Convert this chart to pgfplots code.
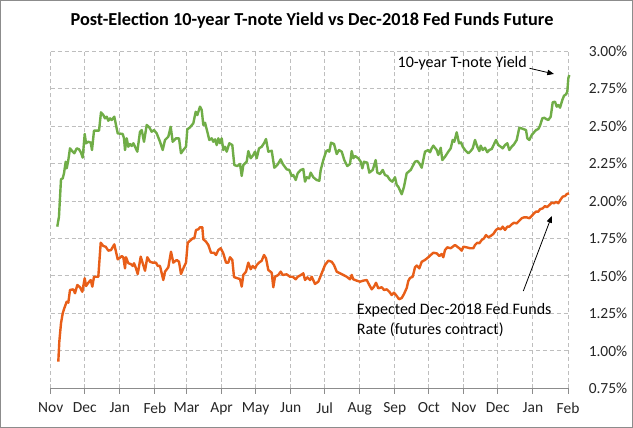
\documentclass[border=0pt]{standalone}
\usepackage{pgfplots}
\pgfplotsset{compat=1.18}
\usepackage{fontspec}
\setmainfont{Carlito}
\usetikzlibrary{arrows.meta}

\definecolor{tgreen}{RGB}{112,173,71}
\definecolor{forange}{RGB}{232,94,24}
\definecolor{gridgray}{RGB}{190,190,190}

% 10-year T-note yield, % (day 0 = 1 Nov 2016)
\pgfplotstableread{
day yield
5.8 1.829
7.3 1.895
9.1 2.145
10.6 2.151
11.75 2.185
13.25 2.262
14.13 2.218
15.55 2.273
17.05 2.351
19.43 2.329
20.85 2.318
22.97 2.351
25.0 2.345
26.77 2.322
28.27 2.289
30.04 2.447
31.18 2.385
33.22 2.395
35.34 2.389
36.48 2.340
38.25 2.469
42.67 2.469
44.43 2.591
46.47 2.573
47.97 2.551
49.47 2.562
50.88 2.535
52.39 2.551
53.89 2.540
56.18 2.562
59.19 2.451
63.6 2.447
64.75 2.418
65.64 2.340
67.14 2.418
68.55 2.362
70.05 2.380
71.55 2.367
72.97 2.385
74.47 2.362
76.5 2.329
78.89 2.462
80.39 2.473
82.42 2.395
84.81 2.507
87.1 2.491
89.22 2.462
91.25 2.473
93.64 2.451
96.55 2.395
98.94 2.340
100.97 2.407
103.89 2.429
106.0 2.495
107.77 2.395
110.69 2.418
113.34 2.418
115.1 2.318
117.14 2.340
119.52 2.362
120.67 2.478
123.06 2.491
125.97 2.518
128.09 2.595
129.51 2.573
131.89 2.629
133.39 2.607
134.81 2.507
136.31 2.522
138.34 2.462
140.11 2.407
142.23 2.418
143.64 2.395
145.14 2.411
146.64 2.373
148.06 2.418
149.56 2.385
151.06 2.418
152.47 2.340
153.98 2.362
155.48 2.329
157.77 2.385
160.42 2.373
162.19 2.240
164.84 2.233
167.23 2.247
168.73 2.167
170.14 2.240
173.14 2.262
174.56 2.333
176.68 2.285
178.98 2.307
180.48 2.329
181.98 2.285
184.01 2.351
186.4 2.362
188.43 2.385
190.19 2.413
192.23 2.329
195.23 2.335
197.53 2.222
200.18 2.240
203.18 2.278
204.95 2.247
208.48 2.211
210.78 2.207
212.9 2.167
214.31 2.173
216.43 2.140
218.2 2.185
220.85 2.207
223.14 2.213
224.65 2.129
226.15 2.158
228.18 2.151
229.68 2.189
231.98 2.158
234.98 2.140
237.28 2.135
238.52 2.207
240.81 2.273
243.2 2.329
244.7 2.340
246.11 2.329
247.61 2.389
250.27 2.380
252.65 2.313
254.68 2.340
257.07 2.329
259.36 2.273
262.01 2.233
264.4 2.247
265.9 2.333
267.31 2.285
268.82 2.300
271.73 2.285
273.85 2.262
275.27 2.218
276.77 2.262
279.68 2.255
281.45 2.189
284.45 2.207
287.1 2.273
288.52 2.189
290.9 2.180
293.29 2.207
295.32 2.173
297.35 2.167
299.73 2.140
301.77 2.129
304.15 2.158
305.65 2.107
307.07 2.095
310.07 2.045
312.1 2.095
314.49 2.185
318.02 2.207
321.82 2.262
323.85 2.267
325.62 2.251
327.74 2.222
330.65 2.329
333.57 2.340
335.07 2.325
336.57 2.351
337.99 2.369
340.99 2.340
342.4 2.307
344.52 2.355
345.94 2.273
348.32 2.295
351.24 2.329
353.36 2.351
355.12 2.407
356.54 2.395
358.66 2.458
360.69 2.385
362.46 2.391
363.96 2.362
365.99 2.340
368.9 2.318
371.02 2.333
372.79 2.351
374.82 2.407
376.86 2.362
378.62 2.333
379.86 2.369
381.63 2.340
383.66 2.355
385.69 2.325
387.46 2.340
389.58 2.347
390.99 2.369
393.37 2.407
395.41 2.373
397.53 2.362
399.29 2.351
401.33 2.373
403.36 2.385
405.12 2.340
407.24 2.362
409.28 2.378
411.66 2.407
413.96 2.489
417.49 2.480
419.88 2.473
421.02 2.418
422.79 2.407
424.91 2.440
426.94 2.458
428.71 2.473
430.74 2.480
432.24 2.502
434.28 2.551
436.04 2.555
437.54 2.547
439.58 2.540
441.7 2.562
443.46 2.658
445.49 2.662
447.0 2.629
448.41 2.640
449.91 2.622
451.94 2.673
453.45 2.702
455.21 2.711
456.36 2.729
457.24 2.818
458.13 2.840
}\tnote

% implied Dec-2018 fed funds rate, %
\pgfplotstableread{
day rate
6.71 0.929
7.6 1.062
9.1 1.185
10.6 1.251
12.01 1.285
14.13 1.329
15.55 1.322
17.05 1.407
19.96 1.411
21.47 1.385
23.5 1.440
25.88 1.425
27.92 1.395
30.04 1.485
31.18 1.433
33.22 1.455
35.34 1.473
36.75 1.429
38.25 1.495
42.05 1.495
44.17 1.722
46.47 1.700
48.59 1.695
50.88 1.669
53.27 1.673
56.18 1.711
59.19 1.611
61.22 1.622
62.72 1.633
64.13 1.625
65.64 1.551
66.52 1.625
68.55 1.585
70.67 1.580
72.44 1.567
73.59 1.585
75.35 1.551
76.86 1.513
79.51 1.629
81.27 1.585
83.3 1.535
85.34 1.625
87.72 1.595
90.11 1.589
93.02 1.589
94.52 1.567
96.55 1.567
99.47 1.473
100.97 1.529
103.89 1.558
106.27 1.662
108.3 1.589
111.31 1.607
113.34 1.595
115.1 1.513
117.14 1.551
119.52 1.589
121.02 1.722
123.06 1.735
125.44 1.751
126.86 1.751
128.36 1.807
130.39 1.811
131.89 1.825
133.92 1.825
134.81 1.745
137.19 1.729
139.22 1.707
141.61 1.655
144.26 1.655
146.02 1.640
148.06 1.673
150.18 1.685
152.47 1.651
154.86 1.589
156.89 1.589
158.39 1.625
160.42 1.607
161.93 1.493
164.84 1.485
167.23 1.480
168.73 1.429
170.14 1.507
172.53 1.529
174.56 1.589
176.68 1.545
178.45 1.567
180.48 1.551
181.98 1.573
184.01 1.589
186.4 1.602
188.43 1.640
190.19 1.618
192.23 1.540
195.23 1.522
196.64 1.425
198.14 1.495
201.06 1.507
203.18 1.529
204.95 1.507
208.48 1.511
211.4 1.495
213.78 1.495
216.43 1.478
218.2 1.495
221.11 1.507
223.14 1.518
224.65 1.473
226.68 1.491
229.06 1.473
230.57 1.495
233.48 1.447
236.4 1.462
239.4 1.518
242.31 1.573
245.23 1.602
248.23 1.595
250.27 1.573
252.65 1.529
255.57 1.518
258.48 1.507
261.48 1.495
264.4 1.478
265.9 1.507
267.31 1.478
270.32 1.469
273.23 1.462
276.15 1.469
279.15 1.473
281.45 1.440
283.57 1.411
285.6 1.429
287.37 1.455
289.4 1.418
292.4 1.425
294.43 1.407
296.82 1.411
299.12 1.395
301.24 1.373
303.27 1.389
305.65 1.367
307.69 1.345
310.07 1.353
312.1 1.380
314.49 1.420
315.9 1.467
317.4 1.487
319.79 1.495
321.82 1.558
323.32 1.570
325.62 1.551
327.74 1.595
330.65 1.607
333.57 1.625
335.69 1.640
337.99 1.655
340.99 1.651
343.29 1.633
345.41 1.647
346.82 1.625
348.32 1.673
350.35 1.691
353.36 1.685
355.12 1.695
357.16 1.707
359.19 1.695
360.95 1.685
363.07 1.669
364.49 1.695
367.49 1.691
370.41 1.685
373.32 1.685
374.82 1.707
376.86 1.722
378.62 1.718
380.74 1.740
382.77 1.751
384.54 1.773
386.57 1.758
388.69 1.767
390.99 1.780
393.37 1.807
395.41 1.818
397.53 1.811
399.29 1.829
401.33 1.807
403.36 1.829
405.12 1.829
407.24 1.845
409.28 1.855
411.66 1.851
413.96 1.869
416.08 1.885
418.11 1.891
420.49 1.891
422.79 1.885
424.91 1.900
426.94 1.918
428.71 1.929
430.74 1.929
432.24 1.945
434.63 1.951
436.66 1.967
438.16 1.958
440.46 1.973
442.58 1.989
444.61 1.985
446.38 1.995
448.41 1.985
450.53 2.011
452.3 2.029
454.33 2.033
456.0 2.047
457.86 2.051
}\fedfunds

\begin{document}
\begin{tikzpicture}[x=0.75pt,y=0.75pt]
% chart area (633 x 428 px, 1 px = 0.75 pt)
\draw[black!45, line width=0.75pt, fill=white] (0.5,0.5) rectangle (632.5,427.5);
\node[font=\fontsize{13.7}{16}\selectfont\bfseries] at (312,407) {Post-Election 10-year T-note Yield vs Dec-2018 Fed Funds Future};
\begin{axis}[
  at={(38.03pt,29.63pt)}, anchor=south west,
  scale only axis, width=388.0pt, height=253.1pt,
  xmin=0, xmax=457, ymin=0.75, ymax=3,
  clip=false,
  axis line style={draw=none},
  xtick={0,30,61,92,120,151,181,212,242,273,304,334,365,395,426,457},
  xticklabels={Nov,Dec,Jan,Feb,Mar,Apr,May,Jun,Jul,Aug,Sep,Oct,Nov,Dec,Jan,Feb},
  ytick={0.75,1.00,1.25,1.50,1.75,2.00,2.25,2.50,2.75,3.00},
  yticklabel pos=right,
  yticklabel={\pgfmathprintnumber[fixed,fixed zerofill,precision=2]{\tick}\%},
  /pgf/number format/assume math mode=true,
  tick label style={font=\fontsize{11.6}{14}\selectfont, text=black!85},
  yticklabel style={anchor=west, xshift=8pt},
  xticklabel style={yshift=-3pt},
  xtick pos=bottom, tick align=outside,
  xtick style={draw=black!45, line width=0.75pt},
  major tick length=4pt,
  ytick style={draw=none},
  grid=major,
  grid style={gridgray, line width=0.75pt, dash pattern=on 3pt off 2.2pt},
]
\draw[black!45, line width=0.75pt] (rel axis cs:0,0) -- (rel axis cs:1,0);
\addplot[tgreen, line width=1.8pt, line join=round] table[x=day, y=yield] {\tnote};
\addplot[forange, line width=1.8pt, line join=round] table[x=day, y=rate] {\fedfunds};
\node[anchor=east, font=\fontsize{12}{14}\selectfont, inner sep=0pt] at (axis cs:420.8,2.92) {10-year T-note Yield};
\draw[-{Triangle[length=5pt,width=4pt]}, line width=0.6pt] (axis cs:423,2.885) -- (axis cs:444.6,2.847);
\node[anchor=west, align=left, font=\fontsize{12}{15}\selectfont, inner sep=0pt] at (axis cs:270.3,1.207) {Expected Dec-2018 Fed Funds\\Rate (futures contract)};
\draw[-{Triangle[length=5pt,width=4pt]}, line width=0.6pt] (axis cs:417.5,1.40) -- (axis cs:442.6,1.90);
\end{axis}
\end{tikzpicture}
\end{document}
